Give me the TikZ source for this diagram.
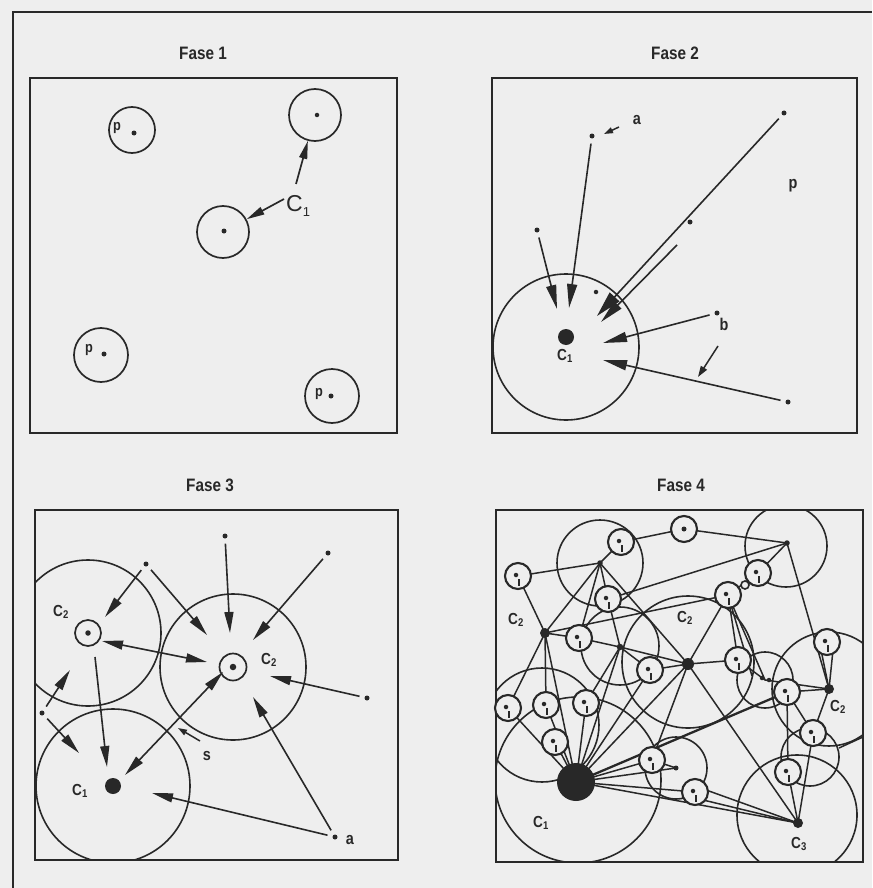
\documentclass[tikz,border=0pt]{standalone}
\usepackage{fontspec}
\setmainfont{Liberation Sans}
\newfontfamily\cond[FakeStretch=0.85]{Liberation Sans}
\usetikzlibrary{arrows.meta}
\definecolor{ink}{RGB}{40,40,40}
\definecolor{paper}{RGB}{238,238,238}
\tikzset{
  frameline/.style={draw=ink,line width=1.6pt},
  panelbox/.style={draw=ink,line width=1.9pt},
  ring/.style={circle,draw=ink,line width=1.7pt,inner sep=0pt,minimum size=#1},
  bigring/.style={draw=ink,line width=1.6pt},
  smc/.style={circle,draw=ink,line width=2.1pt,inner sep=0pt,minimum size=26pt,fill=paper},
  dotn/.style={circle,fill=ink,inner sep=0pt,minimum size=#1},
  ttl/.style={font=\cond\bfseries\fontsize{18}{18}\selectfont,text=ink},
  lbl/.style={font=\cond\bfseries\fontsize{16}{16}\selectfont,text=ink},
  lowl/.style={font=\cond\bfseries\fontsize{17}{17}\selectfont,text=ink},
  link/.style={draw=ink,line width=1.5pt},
  tickl/.style={draw=ink,line width=1.5pt},
  arrA/.style={draw=ink,line width=1.7pt,-{Triangle[length=18pt,width=8pt]}},
  arrB/.style={draw=ink,line width=1.6pt,-{Triangle[length=24pt,width=10pt]},shorten <=5pt},
  arrC/.style={draw=ink,line width=1.6pt,-{Triangle[length=21pt,width=9pt]},shorten <=5pt},
  arrD/.style={draw=ink,line width=1.6pt,{Triangle[length=21pt,width=9pt]}-{Triangle[length=21pt,width=9pt]}},
  arrS/.style={draw=ink,line width=1.5pt,-{Triangle[length=9pt,width=6pt]}},
}
\newcommand\smallmkt[1]{%
  \node[smc] (#1-o) at (#1) {};
  \node[dotn=4.5pt] (#1-d) at ([shift={(-2,-1)}]#1) {};
  \draw[tickl] ([shift={(1,3)}]#1) -- ++(0,7);}
\begin{document}
\begin{tikzpicture}[x=1pt,y=-1pt]
\fill[paper] (0,0) rectangle (872,888);
\useasboundingbox (0,0) rectangle (872,888);
% outer frame
\draw[frameline] (13,888) -- (13,12) -- (872,12);

% ================= Fase 1
\node[ttl] (f1) at (203,53) {Fase 1};
\draw[panelbox] (30,78) rectangle (397,433);
\node[ring=46pt] (p1a) at (132,130) {};
\node[dotn=5pt] (p1ad) at (134,133) {};
\node[font=\cond\bfseries\fontsize{15}{15}\selectfont,text=ink] (p1al) at (117,128) {p};
\node[ring=52pt] (c1t) at (315,115) {};
\node[dotn=4.5pt] (c1td) at (317,115) {};
\node[ring=52pt] (c1m) at (223,232) {};
\node[dotn=5pt] (c1md) at (224,231) {};
\node[ring=54pt] (p1b) at (101,355) {};
\node[dotn=5pt] (p1bd) at (104,354) {};
\node[font=\cond\bfseries\fontsize{15}{15}\selectfont,text=ink] (p1bl) at (89,350) {p};
\node[ring=54pt] (p1c) at (332,396) {};
\node[dotn=5pt] (p1cd) at (331,396) {};
\node[font=\cond\bfseries\fontsize{15}{15}\selectfont,text=ink] (p1cl) at (319,394) {p};
\node[font=\fontsize{23}{23}\selectfont,text=ink,anchor=west,inner sep=0pt] (c1lab) at (286,206) {C\raisebox{-0.45ex}{\fontsize{13}{13}\selectfont 1}};
\coordinate (k1) at (296,184);
\coordinate (k2) at (284,199);
\draw[arrA] (k1) -- (c1t);
\draw[arrA] (k2) -- (c1m);

% ================= Fase 2
\node[ttl] (f2) at (675,53) {Fase 2};
\draw[panelbox] (492,78) rectangle (857,433);
\begin{scope}
\clip (492,78) rectangle (857,433);
\draw[bigring] (566,347) circle (73);
\end{scope}
\node[circle,fill=ink,inner sep=0pt,minimum width=16pt,minimum height=14pt] (c2big) at (566,337) {};
\node[lbl] (c2lab) at (565,356) {C\textsubscript{1}};
\node[dotn=5pt] (a2) at (592,136) {};
\node[dotn=5pt] (p2) at (784,113) {};
\node[dotn=5pt] (q2) at (537,230) {};
\node[dotn=5pt] (r2) at (690,222) {};
\node[dotn=5pt] (b2) at (717,313) {};
\node[dotn=5pt] (s2) at (788,402) {};
\node[dotn=4.5pt] (in2) at (596,292) {};
\node[lowl] (a2l) at (637,120) {a};
\node[lowl] (p2l) at (793,186) {p};
\node[lowl] (b2l) at (724,324) {b};
\coordinate (q2t) at (557,309);
\coordinate (a2t) at (569,308);
\coordinate (p2t) at (597,316);
\coordinate (r2s) at (677,245);
\coordinate (r2t) at (601,322);
\coordinate (b2t) at (603,343);
\coordinate (s2t) at (603,360);
\draw[arrB] (q2) -- (q2t);
\draw[arrB] (a2) -- (a2t);
\draw[arrB,-{Triangle[length=26pt,width=13pt]}] (p2) -- (p2t);
\draw[arrB,shorten <=0pt] (r2s) -- (r2t);
\draw[arrB] (b2) -- (b2t);
\draw[arrB] (s2) -- (s2t);
\coordinate (aas) at (619,127);
\coordinate (aae) at (604,134);
\draw[arrS] (aas) -- (aae);
\coordinate (bbs) at (718,346);
\coordinate (bbe) at (698,377);
\draw[arrS,-{Triangle[length=11pt,width=7pt]}] (bbs) -- (bbe);

% ================= Fase 3
\node[ttl] (f3) at (210,485) {Fase 3};
\draw[panelbox] (35,510) rectangle (398,860);
\begin{scope}
\clip (35,510) rectangle (398,860);
\draw[bigring] (113,786) circle (77);
\draw[bigring] (233,667) circle (73);
\draw[bigring] (88,633) circle (73);
\end{scope}
\node[ring=26pt] (c2ls) at (88,633) {};
\node[dotn=5.5pt] (c2ld) at (88,633) {};
\node[ring=27pt] (c2rs) at (233,667) {};
\node[dotn=6.5pt] (c2rd) at (233,667) {};
\node[circle,fill=ink,inner sep=0pt,minimum width=16pt,minimum height=14pt] (c3c1) at (113,786) {};
\node[lbl] (l3c2a) at (61,612) {C\textsubscript{2}};
\node[lbl] (l3c2b) at (269,660) {C\textsubscript{2}};
\node[lbl] (l3c1) at (80,791) {C\textsubscript{1}};
\node[lowl] (l3s) at (207,756) {s};
\node[lowl] (l3a) at (350,840) {a};
\node[dotn=5pt] (t1) at (146,564) {};
\node[dotn=5pt] (t2) at (225,536) {};
\node[dotn=5pt] (t3) at (328,553) {};
\node[dotn=5pt] (t4) at (367,698) {};
\node[dotn=5pt] (a3) at (335,837) {};
\node[dotn=5pt] (t5) at (42,713) {};
\coordinate (t1ta) at (105,617);
\coordinate (t1tb) at (207,635);
\coordinate (t2t) at (230,633);
\coordinate (t3t) at (253,640);
\coordinate (t4t) at (270,676);
\coordinate (a3ta) at (253,697);
\coordinate (a3tb) at (152,793);
\coordinate (t5ta) at (70,670);
\coordinate (t5tb) at (79,753);
\draw[arrC] (t1) -- (t1ta);
\draw[arrC] (t1) -- (t1tb);
\draw[arrC] (t2) -- (t2t);
\draw[arrC] (t3) -- (t3t);
\draw[arrC] (t4) -- (t4t);
\draw[arrC] (a3) -- (a3ta);
\draw[arrC] (a3) -- (a3tb);
\draw[arrC] (t5) -- (t5ta);
\draw[arrC] (t5) -- (t5tb);
\coordinate (d1a) at (102,641);
\coordinate (d1b) at (207,662);
\draw[arrD] (d1a) -- (d1b);
\coordinate (d2a) at (223,672);
\coordinate (d2b) at (125,775);
\draw[arrD] (d2a) -- (d2b);
\coordinate (v1a) at (95,657);
\coordinate (v1b) at (107,767);
\draw[arrC,shorten <=0pt] (v1a) -- (v1b);
\coordinate (ssa) at (200,741);
\coordinate (ssb) at (178,728);
\draw[arrS] (ssa) -- (ssb);

% ================= Fase 4
\node[ttl] (f4) at (681,485) {Fase 4};
% positions
\coordinate (A) at (518,576);
\coordinate (Bs) at (621,542);
\coordinate (T) at (684,529);
\coordinate (Bb) at (608,599);
\coordinate (Dl) at (579,638);
\coordinate (Dr) at (650,670);
\coordinate (G) at (728,595);
\coordinate (F) at (758,573);
\coordinate (Ti) at (745,585);
\coordinate (H) at (738,660);
\coordinate (R) at (827,642);
\coordinate (M) at (787,692);
\coordinate (P) at (813,733);
\coordinate (Q) at (788,772);
\coordinate (S) at (695,792);
\coordinate (J) at (652,760);
\coordinate (L1) at (508,708);
\coordinate (L2) at (546,705);
\coordinate (L3) at (586,703);
\coordinate (L4) at (555,742);
\coordinate (Bc) at (600,563);
\coordinate (Dc) at (620,647);
\coordinate (Ec) at (787,543);
\coordinate (Kc) at (676,768);
\coordinate (Nc) at (765,680);
\coordinate (Nl) at (752,676);
\coordinate (C1) at (576,782);
\coordinate (C2L) at (545,633);
\coordinate (C2M) at (688,664);
\coordinate (C2R) at (829,689);
\coordinate (C3) at (798,823);
\coordinate (Oe) at (839,748);
\coordinate (Re) at (863,737);
\coordinate (Su) at (695,786);
\coordinate (Sd) at (695,798);
\coordinate (Rl) at (821,650);
\coordinate (Rr) at (833,650);
\begin{scope}
\clip (496,510) rectangle (863,862);
\draw[bigring] (600,563) circle (43);
\draw[bigring] (620,646) circle (39);
\draw[bigring] (688,662) circle (66);
\draw[bigring] (786,546) circle (41);
\draw[bigring] (829,689) circle (57);
\draw[bigring] (765,680) circle (28);
\draw[bigring] (810,757) circle (29);
\draw[bigring] (797,815) circle (60);
\draw[bigring] (676,768) circle (31);
\draw[bigring] (578,780) circle (83);
\draw[bigring] (542,725) circle (57);
\draw[link] (C2L) -- (A);
\draw[link] (C2L) -- (L1);
\draw[link] (C2L) -- (L2);
\draw[link] (C2L) -- (C1);
\draw[link] (C2L) -- (Dl);
\draw[link] (C2L) -- (Bc);
\draw[link] (C2L) -- (G);
\draw[link] (A) -- (Bc);
\draw[link] (Bc) -- (Bs);
\draw[link] (Bc) -- (Bb);
\draw[link] (Bc) -- (C2M);
\draw[link] (Bc) -- (Dl);
\draw[link] (Bs) -- (T);
\draw[link] (T) -- (Ec);
\draw[link] (Ec) -- (Bb);
\draw[link] (Ec) -- (F);
\draw[link] (Ec) -- (C2R);
\draw[link] (F) -- (G);
\draw[link] (G) -- (H);
\draw[link] (G) -- (Nc);
\draw[link] (G) -- (Nl);
\draw[link] (G) -- (C2M);
\draw[link] (H) -- (C2M);
\draw[link] (H) -- (Nc);
\draw[link] (Nc) -- (C2R);
\draw[link] (M) -- (C2R);
\draw[link] (M) -- (P);
\draw[link] (M) -- (Q);
\draw[link] (C2R) -- (P);
\draw[link] (Rl) -- (C2R);
\draw[link] (Rr) -- (C2R);
\draw[link] (P) -- (C3);
\draw[link] (Q) -- (C3);
\draw[link] (C2M) -- (C3);
\draw[link] (C2M) -- (J);
\draw[link] (C2M) -- (Dc);
\draw[link] (C2M) -- (Dr);
\draw[link] (C1) -- (L1);
\draw[link] (C1) -- (L2);
\draw[link] (C1) -- (L3);
\draw[link] (C1) -- (L4);
\draw[link] (C1) -- (Dc);
\draw[link] (C1) -- (Dr);
\draw[link] (C1) -- (C2M);
\draw[link] (C1) -- (J);
\draw[link] (C1) -- (Kc);
\draw[link] (C1) -- (S);
\draw[link,line width=2.3pt] (C1) -- (M);
\draw[link] (C1) -- (C3);
\draw[link] (Su) -- (C3);
\draw[link] (Sd) -- (C3);
\draw[link] (J) -- (Kc);
\draw[link] (Dc) -- (Dl);
\draw[link] (Dc) -- (Bb);
\draw[link] (Dc) -- (Dr);
\draw[link] (Dc) -- (L3);
\draw[link] (Oe) -- (Re);
\end{scope}
\draw[panelbox] (496,510) rectangle (863,862);
% small market circles
\smallmkt{A}
\smallmkt{Bs}
\node[smc] (T-o) at (T) {};
\node[dotn=5pt] (T-d) at (T) {};
\smallmkt{Bb}
\smallmkt{Dl}
\smallmkt{Dr}
\smallmkt{G}
\smallmkt{F}
\node[circle,draw=ink,line width=1.6pt,fill=paper,inner sep=0pt,minimum size=8pt] (Ti-o) at (Ti) {};
\smallmkt{H}
\smallmkt{R}
\smallmkt{M}
\smallmkt{P}
\smallmkt{Q}
\smallmkt{S}
\smallmkt{J}
\smallmkt{L1}
\smallmkt{L2}
\smallmkt{L3}
\smallmkt{L4}
% centres
\node[dotn=5.5pt] (Bc-d) at (Bc) {};
\node[dotn=6.5pt] (Dc-d) at (Dc) {};
\node[dotn=5.5pt] (Ec-d) at (Ec) {};
\node[dotn=5pt] (Kc-d) at (Kc) {};
\node[dotn=4.5pt] (Nc-d1) at (762,678) {};
\node[dotn=4.5pt] (Nc-d2) at (769,680) {};
\node[dotn=38pt] (C1-d) at (C1) {};
\node[dotn=10pt] (C2L-d) at (C2L) {};
\node[dotn=12pt] (C2M-d) at (C2M) {};
\node[dotn=10pt] (C2R-d) at (C2R) {};
\node[dotn=10pt] (C3-d) at (C3) {};
\node[lbl] (l4c2a) at (516,620) {C\textsubscript{2}};
\node[lbl] (l4c2b) at (685,618) {C\textsubscript{2}};
\node[lbl] (l4c2c) at (838,707) {C\textsubscript{2}};
\node[lbl] (l4c1) at (541,823) {C\textsubscript{1}};
\node[lbl] (l4c3) at (799,844) {C\textsubscript{3}};
\end{tikzpicture}
\end{document}
